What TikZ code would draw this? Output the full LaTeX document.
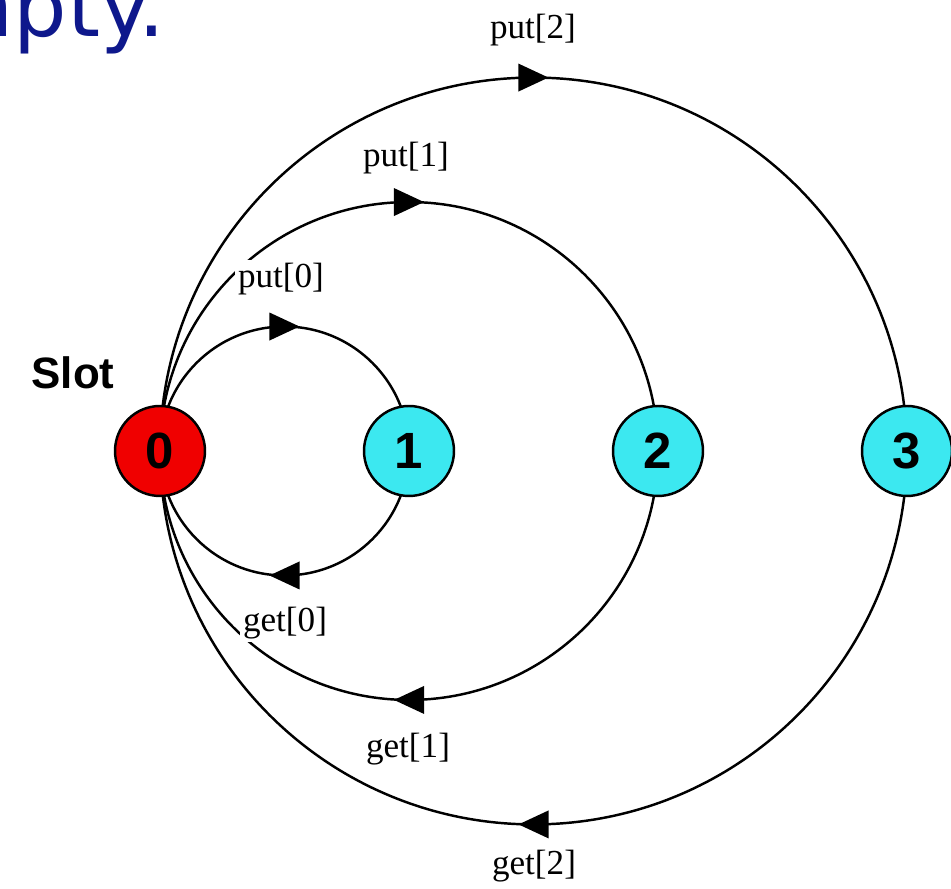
\documentclass[tikz,border=0pt]{standalone}
\usepackage{fontspec}
\setmainfont{Liberation Serif}
\newfontfamily\digitfont{Liberation Sans}
\newfontfamily\titlefont{DejaVu Sans}
\usetikzlibrary{decorations.markings}
\pgfdeclarelayer{paper}
\pgfdeclarelayer{background}
\pgfsetlayers{paper,background,main}
\definecolor{slotred}{RGB}{240,0,0}
\definecolor{slotcyan}{RGB}{60,232,240}
\definecolor{titleblue}{RGB}{14,24,140}
\tikzset{
  slot/.style={circle, draw=black, line width=1.4pt, minimum size=1.8cm,
    inner sep=0pt, font=\digitfont\bfseries\fontsize{29}{29}\selectfont},
  fullslot/.style={slot, fill=slotred},
  freeslot/.style={slot, fill=slotcyan},
  transition/.style={line width=1.4pt, postaction={decorate},
    decoration={markings, mark=at position 0.5 with
      {\fill (-0.3cm,0.28cm) -- (0.3cm,0) -- (-0.3cm,-0.28cm) -- cycle;}}},
  action/.style={fill=white, inner sep=2pt, font=\fontsize{20}{20}\selectfont},
}
\begin{document}
\begin{tikzpicture}[x=0.02cm, y=0.02cm]
\useasboundingbox (0,0) rectangle (951,889);
\begin{pgfonlayer}{paper}
  \fill[white] (0,0) rectangle (951,889);
\end{pgfonlayer}

% heading fragment at the top edge
\begin{scope}
  \clip (0,0) rectangle (951,889);
  \node[anchor=base west, inner sep=0pt, text=titleblue,
        font=\titlefont\fontsize{48}{48}\selectfont] (title) at (-69,852) {mpty.};
\end{scope}

% slots
\node[fullslot] (s0) at (160,438) {0};
\node[freeslot] (s1) at (409,438) {1};
\node[freeslot] (s2) at (658,438) {2};
\node[freeslot] (s3) at (907,438) {3};
\node[font=\digitfont\bfseries\fontsize{25}{25}\selectfont, inner sep=0pt] (slotlbl) at (73,516) {Slot};

% transitions: each pair forms a circle through slot 0 and slot k
\begin{pgfonlayer}{background}
  \draw[transition] (s0.center) arc[start angle=180, end angle=0, radius=2.49cm];
  \draw[transition] (s1.center) arc[start angle=0, end angle=-180, radius=2.49cm];
  \draw[transition] (s0.center) arc[start angle=180, end angle=0, radius=4.98cm];
  \draw[transition] (s2.center) arc[start angle=0, end angle=-180, radius=4.98cm];
  \draw[transition] (s0.center) arc[start angle=180, end angle=0, radius=7.47cm];
  \draw[transition] (s3.center) arc[start angle=0, end angle=-180, radius=7.47cm];
\end{pgfonlayer}

% transition labels
\node[action] (p0) at (281,610) {put[0]};
\node[action] (p1) at (406,731) {put[1]};
\node[action] (p2) at (533,859) {put[2]};
\node[action] (g0) at (285,266) {get[0]};
\node[action] (g1) at (408,140) {get[1]};
\node[action] (g2) at (534,23) {get[2]};
\end{tikzpicture}
\end{document}
